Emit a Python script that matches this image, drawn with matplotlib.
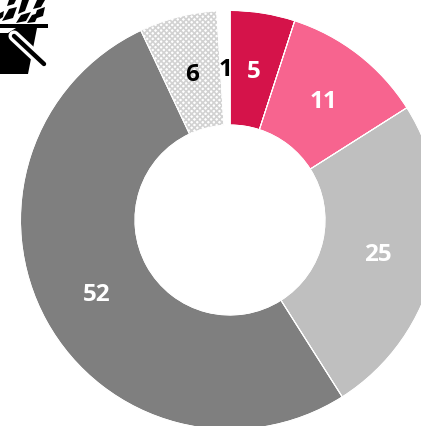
import matplotlib
matplotlib.use('Agg')
import matplotlib.pyplot as plt
from matplotlib.patches import Polygon

# Share of each group, clockwise from the top
values = [5, 11, 25, 52, 6, 1]
colors = ['#D5134A', '#F7648F', '#BFBFBF', '#7F7F7F', '#FFFFFF', '#FFFFFF']
label_colors = ['white', 'white', 'white', 'white', 'black', 'black']
hatched_slice = 4

W, H = 421, 426
fig = plt.figure(figsize=(W / 100, H / 100), dpi=100)
ax = fig.add_axes([0, 0, 1, 1])

matplotlib.rcParams['hatch.linewidth'] = 1.2

# Donut, working in pixel coordinates (y counted from the bottom)
wedges, texts, autotexts = ax.pie(
    values, colors=colors, startangle=90, counterclock=False,
    center=(230, H - 220), radius=209.5,
    autopct=lambda p: f'{p:.0f}', pctdistance=0.725,
    wedgeprops=dict(width=114.5, edgecolor='white', linewidth=0.7),
    textprops=dict(family='Open Sans', fontweight='bold', fontsize=17.5))

for text, color in zip(autotexts, label_colors):
    text.set_color(color)
    text.set_zorder(5)
    # labels sit a little lower than the pie's own position
    x, y = text.get_position()
    text.set_position((x, y - 2))

# Grey checked pattern for the 6 slice, white outline drawn over it
pattern = wedges[hatched_slice]
pattern.set_edgecolor('#D2D2D2')
pattern.set_hatch('xxxxxx')
pattern.set_linewidth(0)
ax.pie(values, colors=['none'] * len(values), startangle=90, counterclock=False,
       center=(230, H - 220), radius=209.5,
       wedgeprops=dict(width=114.5, edgecolor='white', linewidth=0.7))

ax.set_xlim(0, W)
ax.set_ylim(0, H)
ax.set_aspect('equal')
ax.axis('off')


def icon_shape(points):
    ax.add_patch(Polygon([(x, H - y) for x, y in points], closed=True, zorder=6,
                         color='black', lw=0))


# Plant pot icon, top left
icon_shape([(0, 24), (48, 24), (48, 28), (0, 28)])
icon_shape([(0, 33), (8, 33), (16, 28), (37, 28), (28, 74), (0, 74)])

# Handle across the pot: black core with a white halo
ax.plot([14, 44], [H - 36, H - 64], color='white', lw=8, solid_capstyle='round', zorder=7)
ax.plot([14, 44], [H - 36, H - 64], color='black', lw=3.2, solid_capstyle='round', zorder=8)

# Leaves
icon_shape([(0, 13), (4, 11), (3, 17), (0, 19)])
icon_shape([(2, 21), (9, 9), (17, 7), (13, 18)])
icon_shape([(7, 6), (9, 0), (16, 0), (14, 4)])
icon_shape([(18, 14), (22, 0), (29, 0), (25, 11)])
icon_shape([(33, 9), (37, 0), (45, 0), (41, 7)])
icon_shape([(34, 19), (37, 10), (45, 7), (43, 16)])
icon_shape([(16, 23), (21, 15), (31, 12), (26, 21)])
icon_shape([(27, 23), (32, 15), (39, 13), (35, 22)])

fig.savefig('out.png', dpi=100)
